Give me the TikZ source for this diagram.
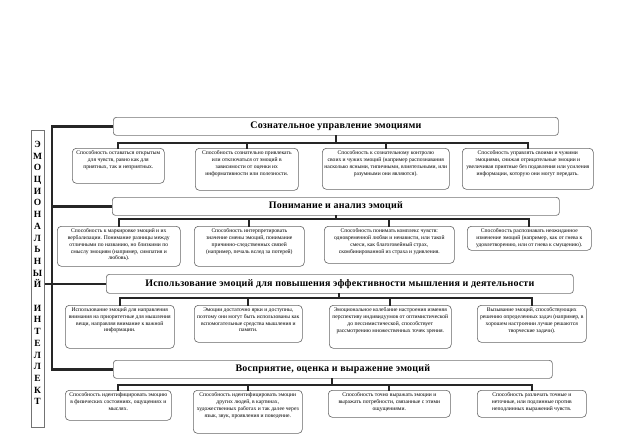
\documentclass[tikz,border=0pt]{standalone}
\usepackage{fontspec}
\setmainfont{Liberation Serif}
\newfontfamily\hdrfont[LetterSpace=2]{Liberation Serif}
\begin{document}
\begin{tikzpicture}[x=1pt,y=-1pt,
  hdr/.style={draw=black!55, line width=0.7pt, rounded corners=3pt, fill=white, anchor=north west, inner sep=0pt, font=\hdrfont\bfseries\fontsize{10}{11}\selectfont},
  cbox/.style={draw=black!60, line width=0.6pt, rounded corners=4pt, fill=white, anchor=north west, inner sep=0pt},
  ctext/.style={anchor=north, align=center, font=\fontsize{5.6}{6.8}\selectfont, inner sep=0pt},
  bus/.style={line width=2pt, draw=black!85, line cap=rect},
  trunk/.style={line width=2.5pt, draw=black!85}]
\useasboundingbox (0,0) rectangle (624,440);
\fill[white] (0,0) rectangle (624,440);
\newcommand\mybox[6]{%
  \node[cbox, minimum width={(#4-#2)*1pt}, minimum height={(#5-#3)*1pt}] (#1) at (#2,#3) {};
  \node[ctext] (#1t) at ([yshift=-2.5pt]#1.north) {#6};}
\newcommand\myhdr[6]{%
  \node[hdr, minimum width={(#4-#2)*1pt}, minimum height={(#5-#3)*1pt}] (#1) at (#2,#3) {#6};}
% left label
\node[draw=black!55, line width=0.6pt, anchor=north west, minimum width=13pt, minimum height=297pt, inner sep=0pt] (lab) at (31,130) {};
\node[anchor=north, align=center, inner sep=0pt, font=\bfseries\fontsize{9.5}{11.7}\selectfont] (labt) at (37.5,141)
 {Э\\М\\О\\Ц\\И\\О\\Н\\А\\Л\\Ь\\Н\\Ы\\Й\\[11.7pt]И\\Н\\Т\\Е\\Л\\Л\\Е\\К\\Т};
% headers
\myhdr{h1}{113}{117}{558}{135}{Сознательное управление эмоциями}
\myhdr{h2}{112}{197}{559}{215}{Понимание и анализ эмоций}
\myhdr{h3}{106}{274}{573}{293}{Использование эмоций для повышения эффективности мышления и деятельности}
\myhdr{h4}{113}{360}{552}{378}{Восприятие, оценка и выражение эмоций}
% row 1
\mybox{b11}{72}{148}{164}{183}{Способность оставаться открытым\\для чувств, равно как для\\приятных, так и  неприятных.}
\mybox{b12}{195}{148}{298}{190}{Способность сознательно привлекать\\или отключаться от эмоций в\\зависимости от оценки их\\информативности или полезности.}
\mybox{b13}{322}{148}{449}{189}{Способность к сознательному контролю\\своих и чужих эмоций (например распознавания\\насколько ясными, типичными, влиятельными, или\\разумными они являются).}
\mybox{b14}{462}{148}{593}{189}{Способность управлять своими и чужими\\эмоциями, снижая отрицательные эмоции и\\увеличивая приятные без подавления или усиления\\информации, которую они могут передать.}
% row 2
\mybox{b21}{57}{226}{180}{266}{Способность к маркировке эмоций и их\\вербализации. Понимание разницы между\\отличными по названию, но близкими по\\смыслу эмоциям (например,  симпатия и\\любовь).}
\mybox{b22}{194}{226}{304}{266}{Способность интерпретировать\\значение смены эмоций,  понимание\\причинно-следственных связей\\(например, печаль вслед за потерей)}
\mybox{b23}{324}{226}{454}{263}{Способность понимать комплекс чувств:\\одновременной любви и ненависти,  или такой\\смеси, как  благоговейный страх,\\скомбинированной из страха и удивления.}
\mybox{b24}{467}{226}{591}{250}{Способность распознавать неожиданное\\изменение эмоций (например, как от гнева к\\удовлетворению, или от гнева к смущению).}
% row 3
\mybox{b31}{65}{305}{174}{348}{Использование эмоций для направления\\внимания  на приоритетные для мышления\\вещи,  направляя внимание к важной\\информации.}
\mybox{b32}{194}{305}{302}{342}{Эмоции достаточно ярки и доступны,\\поэтому они могут быть использованы как\\вспомогательные средства  мышления и\\памяти.}
\mybox{b33}{329}{305}{451}{348}{Эмоциональное колебание настроения изменяя\\перспективу индивидуумов от оптимистической\\до пессимистической, способствует\\рассмотрению множественных точек зрения.}
\mybox{b34}{477}{305}{586}{342}{Вызывание эмоций, способствующих\\решению определенных задач (например, в\\хорошем настроении лучше решаются\\творческие задачи).}
% row 4
\mybox{b41}{65}{390}{171}{420}{Способность идентифицировать эмоцию\\в физических состояниях, ощущениях и\\мыслях.}
\mybox{b42}{193}{390}{302}{433}{Способность идентифицировать эмоции\\других людей, в картинах,\\художественных работах и так далее через\\язык, звук, проявления и поведение.}
\mybox{b43}{328}{390}{450}{417}{Способность точно выражать  эмоции и\\выражать потребности, связанные с этими\\ощущениями.}
\mybox{b44}{477}{390}{586}{417}{Способность различать точные и\\неточные, или подлинные против\\неподлинных выражений чувств.}
% bus junctions
\coordinate (j1) at (336,143);
\coordinate (j2) at (336,219);
\coordinate (j3) at (339,298);
\coordinate (j4) at (332,385);
\coordinate (tx) at (52,0);
% trunk
\draw[trunk] (h1.west) -- (h1.west -| tx) -- (h4.west -| tx) -- (h4.west);
\draw[trunk] (h2.west -| tx) -- (h2.west);
\draw[trunk] (lab.east |- h3.west) -- (h3.west);
% buses
\foreach \r in {1,2,3,4}{
  \draw[bus] (h\r.south -| j\r) -- (j\r);
  \draw[bus] (b\r1.north) |- (j\r) -| (b\r4.north);
  \draw[bus] (b\r2.north) -- (b\r2.north |- j\r);
  \draw[bus] (b\r3.north) -- (b\r3.north |- j\r);
}
\end{tikzpicture}
\end{document}
